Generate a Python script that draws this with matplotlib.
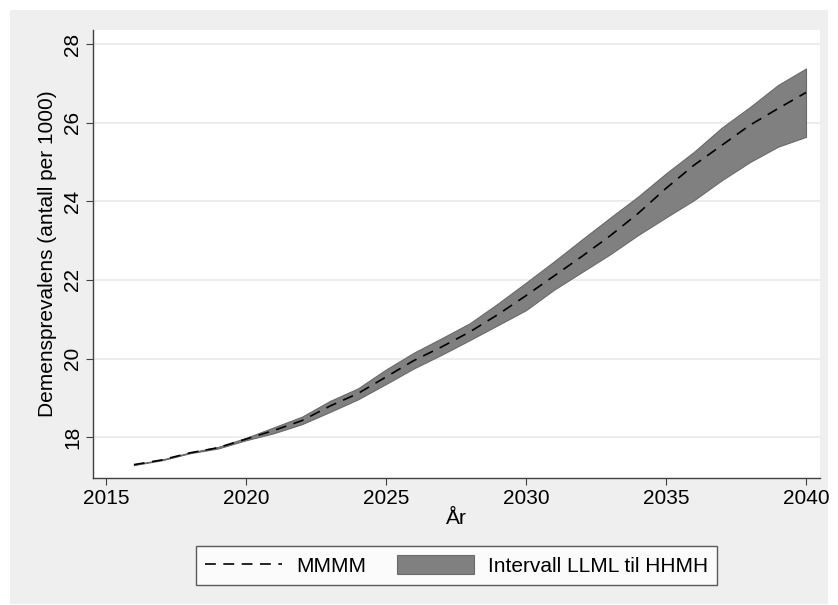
import matplotlib
matplotlib.use("Agg")
import matplotlib.pyplot as plt
from matplotlib.lines import Line2D
from matplotlib.patches import Patch, Rectangle

plt.rcParams["font.family"] = ["Liberation Sans", "DejaVu Sans"]

# Data
years = list(range(2016, 2041))
mmmm = [17.30, 17.42, 17.60, 17.73, 17.95, 18.17, 18.42, 18.79, 19.11, 19.53,
        19.95, 20.30, 20.68, 21.12, 21.60, 22.10, 22.60, 23.12, 23.69, 24.33,
        24.92, 25.43, 25.94, 26.36, 26.77]
hhmh = [17.30, 17.43, 17.61, 17.75, 17.98, 18.25, 18.52, 18.92, 19.24, 19.72,
        20.15, 20.52, 20.90, 21.40, 21.93, 22.47, 23.03, 23.58, 24.12, 24.71,
        25.26, 25.88, 26.40, 26.96, 27.38]
llml = [17.29, 17.41, 17.59, 17.71, 17.92, 18.10, 18.33, 18.64, 18.96, 19.35,
        19.75, 20.10, 20.47, 20.85, 21.23, 21.75, 22.20, 22.65, 23.14, 23.59,
        24.03, 24.54, 25.00, 25.39, 25.64]
xticks = [2015, 2020, 2025, 2030, 2035, 2040]
yticks = [18, 20, 22, 24, 26, 28]

W, H = 838, 605
FS = 15
DASH = (0, (6.5, 4.5))
fig = plt.figure(figsize=(W / 100, H / 100), dpi=100)
fig.patch.set_facecolor("white")

# Stata-like light gray graph region
fig.patches.append(Rectangle((10 / W, 1 / H), 818 / W, 594 / H,
                             transform=fig.transFigure, facecolor="#efefef",
                             edgecolor="none", zorder=-10))

ax = fig.add_axes([93 / W, 1 - 478 / H, (820 - 93) / W, (478 - 30) / H])
ax.set_facecolor("white")

ax.fill_between(years, llml, hhmh, facecolor="#808080", edgecolor="#6a6a6a",
                linewidth=0.8, zorder=2)
ax.plot(years, mmmm, color="black", linestyle=DASH, linewidth=1.2, zorder=3)

ax.set_xlim(2014.54, 2040.5)
ax.set_ylim(16.96, 28.36)
ax.set_xticks(xticks)
ax.set_yticks(yticks)
ax.set_xticklabels([str(t) for t in xticks], fontsize=FS)
ax.set_yticklabels([str(t) for t in yticks], fontsize=FS, rotation=90,
                   va="center")
ax.tick_params(axis="both", length=5, width=0.8, color="#404040", pad=3)
ax.grid(axis="y", color="#e8e8e8", linewidth=1.1, zorder=0)
ax.set_axisbelow(True)
for side in ("top", "right"):
    ax.spines[side].set_visible(False)
for side in ("left", "bottom"):
    ax.spines[side].set_color("#404040")
    ax.spines[side].set_linewidth(1.0)

ax.set_xlabel("År", fontsize=FS, labelpad=1)
ax.set_ylabel("Demensprevalens (antall per 1000)", fontsize=FS, labelpad=4)

handles = [
    Line2D([0], [0], color="black", linestyle=DASH, linewidth=1.2),
    Patch(facecolor="#808080", edgecolor="#6a6a6a", linewidth=0.8),
]
leg = fig.legend(handles, ["MMMM", "Intervall LLML til HHMH"], ncol=2,
                 loc="center", bbox_to_anchor=((193 + 720) / 2 / W, 1 - 565.5 / H),
                 frameon=True, fancybox=False, fontsize=FS, handlelength=3.7,
                 handleheight=1.0, columnspacing=1.5, handletextpad=0.65,
                 borderpad=0.45)
leg.get_frame().set_edgecolor("#333333")
leg.get_frame().set_linewidth(1.0)

fig.savefig("out.png", dpi=100)
